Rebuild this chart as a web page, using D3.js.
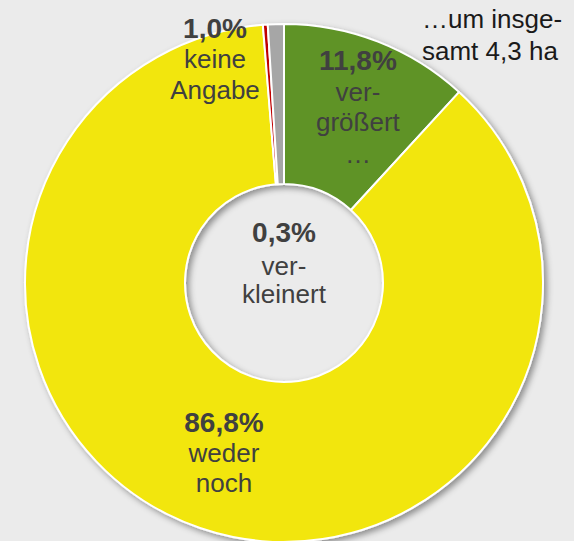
<!DOCTYPE html>
<html>
<head>
<meta charset="utf-8">
<script src="https://cdn.jsdelivr.net/npm/d3@7"></script>
<style>
  body { margin: 0; background: #ebebeb; }
  svg { display: block; font-family: "Liberation Sans", Arial, sans-serif; }
</style>
</head>
<body>
<svg class="chart" width="574" height="541"></svg>
<script>
const categories = ["vergrößert", "weder noch", "verkleinert", "keine Angabe"]
const shares = [11.8, 86.8, 0.3, 1.0]
const shareLabels = ["11,8%", "86,8%", "0,3%", "1,0%"]
const textLines = [["ver-", "größert", "…"], ["weder", "noch"], ["ver-", "kleinert"], ["keine", "Angabe"]]
const colors = ["#5e9327", "#f2e60e", "#c00000", "#a6a6a6"]

const cx = 284, cy = 283
const rOuter = 259, rInner = 99

const svg = d3.select('.chart')

const defs = svg.append('defs')
const f = defs.append('filter').attr('id', 'shadow')
  .attr('x', '-20%').attr('y', '-20%').attr('width', '140%').attr('height', '140%')
f.append('feDropShadow')
  .attr('dx', 3).attr('dy', 3).attr('stdDeviation', 3)
  .attr('flood-color', '#000').attr('flood-opacity', 0.4)

const pie = d3.pie().sort(null).value(d => d)
const arc = d3.arc().innerRadius(rInner).outerRadius(rOuter)

const arcs = pie(shares)

const g = svg.append('g').attr('transform', `translate(${cx},${cy})`)

g.append('g')
  .attr('filter', 'url(#shadow)')
  .selectAll('path')
  .data(arcs)
  .join('path')
  .attr('d', arc)
  .attr('fill', (d, i) => colors[i])
  .attr('stroke', '#fff')
  .attr('stroke-width', 2)
  .attr('stroke-linejoin', 'round')

// label anchors: slice centroid for the two big slices, hand placed for the small ones
const labelArc = d3.arc().innerRadius(rInner).outerRadius(rOuter)
const anchors = arcs.map((d, i) => {
  if (i == 0) { const c = labelArc.centroid(d); return [c[0] + 9, c[1] - 46] }
  if (i == 1) { const c = labelArc.centroid(d); return [c[0] - 2, c[1] - 20] }
  if (i == 2) return [0, -41]
  return [-69, -245]
})
const lineGaps = [[31, 30, 32], [30, 30], [33, 28], [30, 31]]

arcs.forEach((d, i) => {
  const t = g.append('text')
    .attr('text-anchor', 'middle')
    .attr('fill', '#404040')
    .attr('x', anchors[i][0])
    .attr('y', anchors[i][1])
  t.append('tspan')
    .attr('x', anchors[i][0])
    .attr('font-weight', 'bold')
    .attr('font-size', 28)
    .text(shareLabels[i])
  textLines[i].forEach((line, j) => {
    t.append('tspan')
      .attr('x', anchors[i][0])
      .attr('dy', lineGaps[i][j])
      .attr('font-size', 26)
      .text(line)
  })
})

// note top right
const note = svg.append('text')
  .attr('fill', '#1a1a1a')
  .attr('font-size', 26)
  .attr('x', 422).attr('y', 28)
note.append('tspan').attr('x', 422).text('…um insge-')
note.append('tspan').attr('x', 422).attr('dy', 32).text('samt 4,3 ha')
</script>
</body>
</html>
